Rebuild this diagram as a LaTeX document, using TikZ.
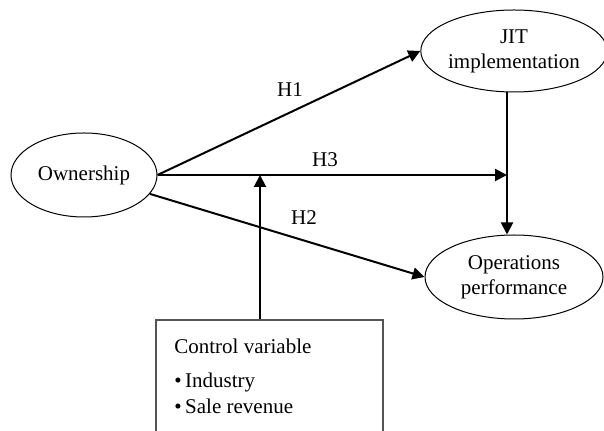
\documentclass[tikz,border=0pt]{standalone}
\usepackage{fontspec}
\setmainfont{Liberation Serif}
\usetikzlibrary{arrows.meta,shapes.geometric,calc}
\begin{document}
\begin{tikzpicture}[x=0.5pt,y=-0.5pt,
  every node/.style={font=\fontsize{10.5}{12.5}\selectfont},
  oval/.style={draw,ellipse,line width=0.5pt,inner sep=0pt,align=center},
  arr/.style={line width=1pt,-{Triangle[length=6pt,width=6pt]}},
  lab/.style={inner sep=0pt}]
\useasboundingbox (0,0) rectangle (604,431);
\clip (0,0) rectangle (604,431);
\node[oval,minimum width=73pt,minimum height=42pt] (own) at (84,175) {Ownership};
\node[oval,minimum width=89pt,minimum height=41pt] (jit) at (514,51) {JIT\\implementation};
\node[oval,minimum width=89pt,minimum height=42pt] (ops) at (514,277) {Operations\\performance};
\node[draw=black!67,line width=0.75pt,minimum width=113.5pt,minimum height=70pt,inner sep=0pt] (box) at (269.5,390) {};
\coordinate (h3end) at (507,175);
\coordinate (mod) at (260,175);
\draw[arr] (own.east) -- (jit.west);
\draw[arr] (own.east) -- (h3end);
\draw[arr] (own.-16) -- (ops.west);
\draw[arr] (jit.south -| h3end) -- (ops.north -| h3end);
\draw[arr] (box.north -| mod) -- (mod);
\node[lab] (h1) at (290,90) {H1};
\node[lab] (h3) at (325,160) {H3};
\node[lab] (h2) at (304,218) {H2};
\node[lab,anchor=base west] (cv) at (174,354) {Control variable};
\node[lab,anchor=base west] (i1) at (174,388) {\textbullet\,Industry};
\node[lab,anchor=base west] (i2) at (174,414) {\textbullet\,Sale revenue};
\end{tikzpicture}
\end{document}
